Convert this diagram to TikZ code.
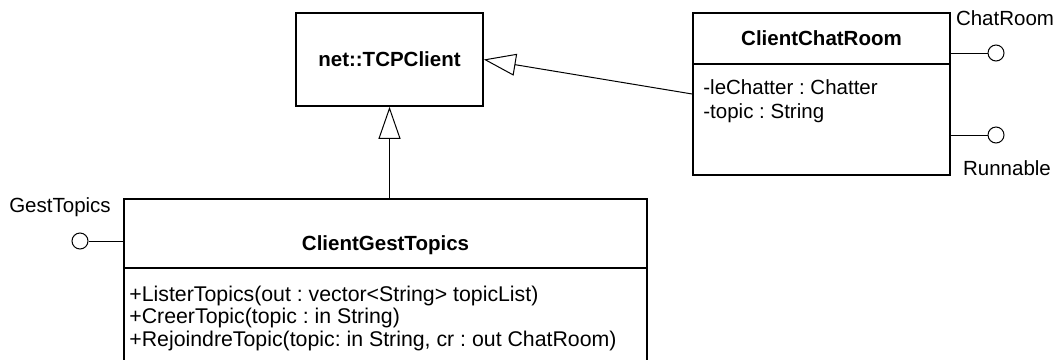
\documentclass[tikz,border=0pt]{standalone}
\usepackage{fontspec}
\setmainfont{Liberation Sans}
\usetikzlibrary{arrows.meta,positioning}
\frenchspacing

\tikzset{
  classbox/.style={draw, line width=0.8pt, inner sep=0pt},
  classname/.style={font=\fontsize{10.25}{11.75}\selectfont\bfseries, anchor=base, inner sep=0pt},
  members/.style={align=left, anchor=base west, inner sep=0pt},
  iface/.style={draw, circle, line width=0.5pt, minimum size=8pt, inner sep=0pt},
  link/.style={line width=0.5pt},
  inherit/.style={link, -{Triangle[open, length=16pt, width=11pt]}},
}

\begin{document}
\begin{tikzpicture}[x=0.5pt, y=-0.5pt, font=\fontsize{10.25}{11.75}\selectfont]
  \useasboundingbox (0,0) rectangle (1058,359);
  \clip (0,0) rectangle (1058,359);
  % classes
  \node[classbox, font=\fontsize{10.25}{11.75}\selectfont\bfseries,
        minimum width=93.5pt, minimum height=46.5pt] (tcp) at (389.5,59.5) {net::TCPClient};
  \node[classbox, minimum width=128.5pt, minimum height=81pt] (chat) at (821.5,94) {};
  \node[classbox, minimum width=261.5pt, minimum height=90.5pt] (gest) at (385.5,289.5) {};
  \draw[classbox] ([yshift=-26pt]chat.north west) -- ([yshift=-26pt]chat.north east);
  \draw[classbox] ([yshift=-35pt]gest.north west) -- ([yshift=-35pt]gest.north east);
  \node[classname] (chatname) at (821.5,45) {ClientChatRoom};
  \node[classname] (gestname) at (385.5,250) {ClientGestTopics};
  % base of a member list = baseline of its last line
  \node[members] (chatattr) at (703,118) {-leChatter : Chatter\\-topic : String};
  \node[members, font=\fontsize{10.65}{11.25}\selectfont] (gestops) at (129,346)
    {+ListerTopics(out : vector<String> topicList)\\
     +CreerTopic(topic : in String)\\
     +RejoindreTopic(topic: in String, cr : out ChatRoom)};
  % interfaces
  \node[iface] (ichat) at (996,53) {};
  \node[iface] (irun) at (996,135) {};
  \node[iface] (igest) at (80,241) {};
  \node[anchor=base] (lchat) at (1005,25) {ChatRoom};
  \node[anchor=base] (lrun) at (1007,175) {Runnable};
  \node[anchor=base] (lgest) at (60,212) {GestTopics};
  \draw[link] (ichat -| chat.east) -- (ichat);
  \draw[link] (irun -| chat.east) -- (irun);
  \draw[link] (igest) -- (igest -| gest.west);
  % generalisations
  \draw[inherit] (chat.west) -- (tcp.east);
  \draw[inherit] (tcp.south |- gest.north) -- (tcp.south);
\end{tikzpicture}
\end{document}
